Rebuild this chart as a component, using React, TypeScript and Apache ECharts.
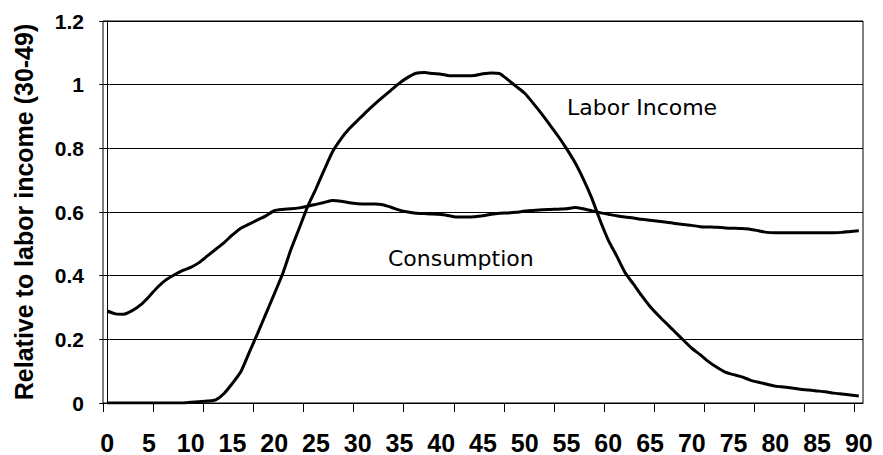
import React, { useEffect, useRef } from "react";
import * as echarts from "echarts";

const ages: number[] = Array.from({ length: 91 }, (_, i) => i);

const consumption: number[] = [
  0.289, 0.280, 0.279, 0.290, 0.308, 0.334, 0.363, 0.386, 0.402, 0.416,
  0.426, 0.441, 0.462, 0.483, 0.504, 0.528, 0.549, 0.562, 0.575, 0.588,
  0.604, 0.608, 0.610, 0.613, 0.618, 0.624, 0.630, 0.636, 0.634, 0.629,
  0.626, 0.625, 0.625, 0.623, 0.615, 0.606, 0.600, 0.596, 0.595, 0.594,
  0.592, 0.588, 0.584, 0.584, 0.585, 0.588, 0.593, 0.596, 0.597, 0.599,
  0.603, 0.605, 0.607, 0.608, 0.609, 0.610, 0.614, 0.610, 0.604, 0.598,
  0.593, 0.588, 0.584, 0.581, 0.577, 0.574, 0.571, 0.568, 0.564, 0.561,
  0.558, 0.554, 0.553, 0.552, 0.550, 0.549, 0.548, 0.546, 0.541, 0.536,
  0.535, 0.535, 0.535, 0.535, 0.535, 0.535, 0.535, 0.535, 0.536, 0.539,
  0.541,
];

const laborIncome: number[] = [
  0, 0, 0, 0, 0, 0, 0, 0, 0, 0,
  0.002, 0.004, 0.006, 0.010, 0.030, 0.062, 0.098, 0.158, 0.218, 0.280,
  0.342, 0.405, 0.482, 0.549, 0.617, 0.673, 0.733, 0.790, 0.830, 0.862,
  0.888, 0.914, 0.938, 0.961, 0.983, 1.005, 1.023, 1.036, 1.038, 1.035,
  1.033, 1.028, 1.028, 1.028, 1.029, 1.034, 1.037, 1.035, 1.015, 0.994,
  0.973, 0.942, 0.909, 0.874, 0.838, 0.799, 0.756, 0.704, 0.645, 0.575,
  0.512, 0.462, 0.410, 0.374, 0.337, 0.303, 0.275, 0.249, 0.223, 0.197,
  0.172, 0.152, 0.130, 0.112, 0.097, 0.089, 0.082, 0.072, 0.065, 0.059,
  0.053, 0.050, 0.047, 0.043, 0.041, 0.038, 0.035, 0.031, 0.028, 0.025,
  0.022,
];

const xLabelValues: number[] = [0, 5, 10, 15, 20, 25, 30, 35, 40, 45, 50, 55, 60, 65, 70, 75, 80, 85, 90];
const xTickValues: number[] = [-0.5, 5.5, 11.5, 17.5, 23.5, 29.5, 35.5, 41.5, 47.5, 53.5, 59.5, 65.5, 71.5, 77.5, 83.5, 89.5];

const yTitle = "Relative to labor income (30-49)";
const seriesNames = ["Labor Income", "Consumption"];

export default function App() {
  const ref = useRef<HTMLDivElement>(null);
  useEffect(() => {
    if (!ref.current) return;
    const chart = echarts.init(ref.current, null, { renderer: "svg" });
    const axisFont = "'Liberation Sans', Arial, sans-serif";
    chart.setOption({
      animation: false,
      backgroundColor: "#ffffff",
      grid: {
        left: 103,
        right: 20,
        top: 21,
        bottom: 52,
        show: true,
        borderColor: "#000",
        borderWidth: 1,
      },
      xAxis: {
        type: "value",
        min: -0.5,
        max: 90.5,
        axisLine: { show: true, lineStyle: { color: "#000", width: 1 } },
        axisTick: {
          show: true,
          length: 9,
          customValues: xTickValues,
          lineStyle: { color: "#000", width: 1 },
        },
        axisLabel: {
          customValues: xLabelValues,
          color: "#000",
          fontFamily: axisFont,
          fontWeight: "bold",
          fontSize: 25,
          margin: 27,
        },
        splitLine: { show: false },
      },
      yAxis: {
        type: "value",
        min: 0,
        max: 1.2,
        interval: 0.2,
        name: yTitle,
        nameLocation: "middle",
        nameGap: 67,
        nameRotate: 90,
        nameTextStyle: {
          color: "#000",
          fontFamily: axisFont,
          fontWeight: "bold",
          fontSize: 25,
        },
        axisLine: { show: true, lineStyle: { color: "#000", width: 1 } },
        axisTick: { show: true, length: 8, lineStyle: { color: "#000", width: 1 } },
        axisLabel: {
          color: "#000",
          fontFamily: axisFont,
          fontWeight: "bold",
          fontSize: 21,
          margin: 19,
        },
        splitLine: { show: true, lineStyle: { color: "#000", width: 1 } },
      },
      graphic: [
        {
          type: "text",
          left: 567,
          top: 96,
          style: {
            text: seriesNames[0],
            fill: "#000",
            font: "22px 'DejaVu Sans', Tahoma, sans-serif",
          },
        },
        {
          type: "text",
          left: 388,
          top: 247,
          style: {
            text: seriesNames[1],
            fill: "#000",
            font: "22px 'DejaVu Sans', Tahoma, sans-serif",
          },
        },
      ],
      series: [
        {
          name: seriesNames[0],
          type: "line",
          data: ages.map((a, i) => [a, laborIncome[i]]),
          showSymbol: false,
          symbol: "none",
          smooth: 0.2,
          lineStyle: { color: "#000", width: 3 },
        },
        {
          name: seriesNames[1],
          type: "line",
          data: ages.map((a, i) => [a, consumption[i]]),
          showSymbol: false,
          symbol: "none",
          smooth: 0.2,
          lineStyle: { color: "#000", width: 3 },
        },
      ],
    });
    return () => chart.dispose();
  }, []);
  return (
    <div
      ref={ref}
      style={{ position: "fixed", left: 0, top: 0, width: 883, height: 455, background: "#fff" }}
    />
  );
}
